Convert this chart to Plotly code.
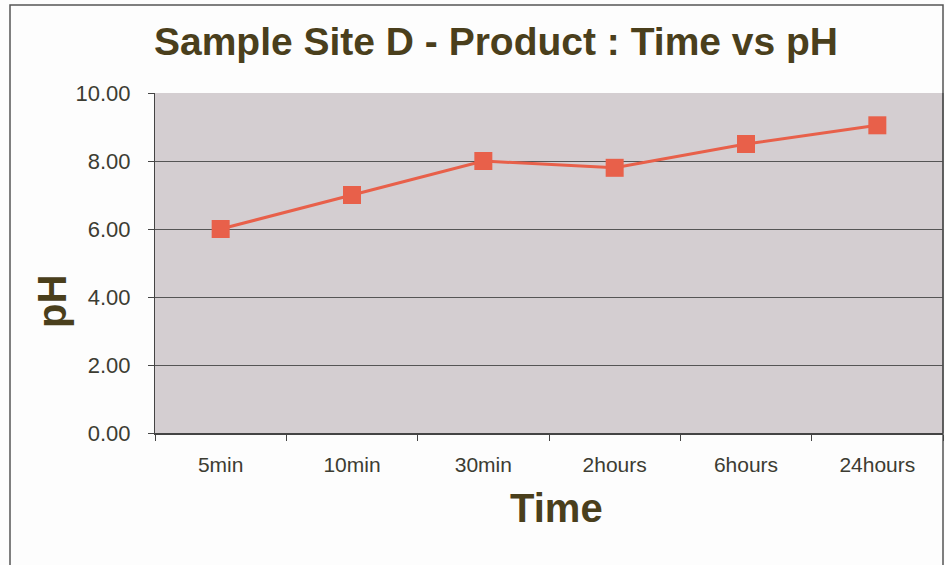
import plotly.graph_objects as go

categories = ["5min", "10min", "30min", "2hours", "6hours", "24hours"]
ph_values = [6.0, 7.0, 8.0, 7.8, 8.5, 9.05]
y_ticks = [0, 2, 4, 6, 8, 10]
y_tick_labels = ["0.00", "2.00", "4.00", "6.00", "8.00", "10.00"]

W, H = 945, 565
L, R, T, B = 155, 2, 93, 132
pw, ph = W - L - R, H - T - B

def px_x(p):
    return (p - L) / pw

def px_y(p):
    return (H - B - p) / ph

fig = go.Figure()
fig.add_trace(go.Scatter(
    x=categories, y=ph_values, mode="lines+markers",
    line=dict(color="#e8604a", width=3),
    marker=dict(symbol="square", size=18, color="#e8604a"),
    showlegend=False,
))

title_color = "#4a3f1c"
tick_color = "#3c3c32"
fig.update_layout(
    width=W, height=H,
    margin=dict(l=L, r=R, t=T, b=B),
    paper_bgcolor="#fdfdfd",
    plot_bgcolor="#d4ced1",
    font=dict(family="Liberation Sans, Arial, sans-serif", color=tick_color),
    title=dict(text="<b>Sample Site D - Product : Time vs pH</b>",
               x=496 / W, xanchor="center", y=1 - 41 / H, yanchor="middle",
               font=dict(size=39, color=title_color)),
    xaxis=dict(
        type="category", range=[-0.5, 5.5], tickson="boundaries",
        ticks="outside", ticklen=6, tickcolor="#444",
        showline=True, linecolor="#444", linewidth=1.5,
        showgrid=False,
        tickfont=dict(size=21, color=tick_color),
        ticklabelstandoff=12,
    ),
    yaxis=dict(
        range=[0, 10], tickvals=y_ticks, ticktext=y_tick_labels,
        ticks="outside", ticklen=6, tickcolor="#444",
        showline=True, linecolor="#444", linewidth=1,
        showgrid=True, gridcolor="#555555", gridwidth=1,
        zeroline=False,
        tickfont=dict(size=22, color=tick_color),
        ticklabelstandoff=13,
    ),
    annotations=[
        dict(text="<b>Time</b>", xref="paper", yref="paper",
             x=px_x(556), y=px_y(508), xanchor="center", yanchor="middle",
             showarrow=False, font=dict(size=40, color=title_color)),
        dict(text="<b>pH</b>", xref="paper", yref="paper", textangle=-90,
             x=px_x(52), y=px_y(302), xanchor="center", yanchor="middle",
             showarrow=False, font=dict(size=40, color=title_color)),
    ],
    shapes=[
        dict(type="rect", xref="paper", yref="paper",
             x0=px_x(10), x1=px_x(943), y0=px_y(600), y1=px_y(5),
             line=dict(color="#555", width=1.5), fillcolor="rgba(0,0,0,0)", layer="below"),
        dict(type="line", xref="paper", yref="paper",
             x0=1, x1=1, y0=0, y1=1, line=dict(color="#444", width=1)),
    ],
)

fig.write_html("out.html", config={"displayModeBar": False},
               post_script="document.body.style.margin='0';")
